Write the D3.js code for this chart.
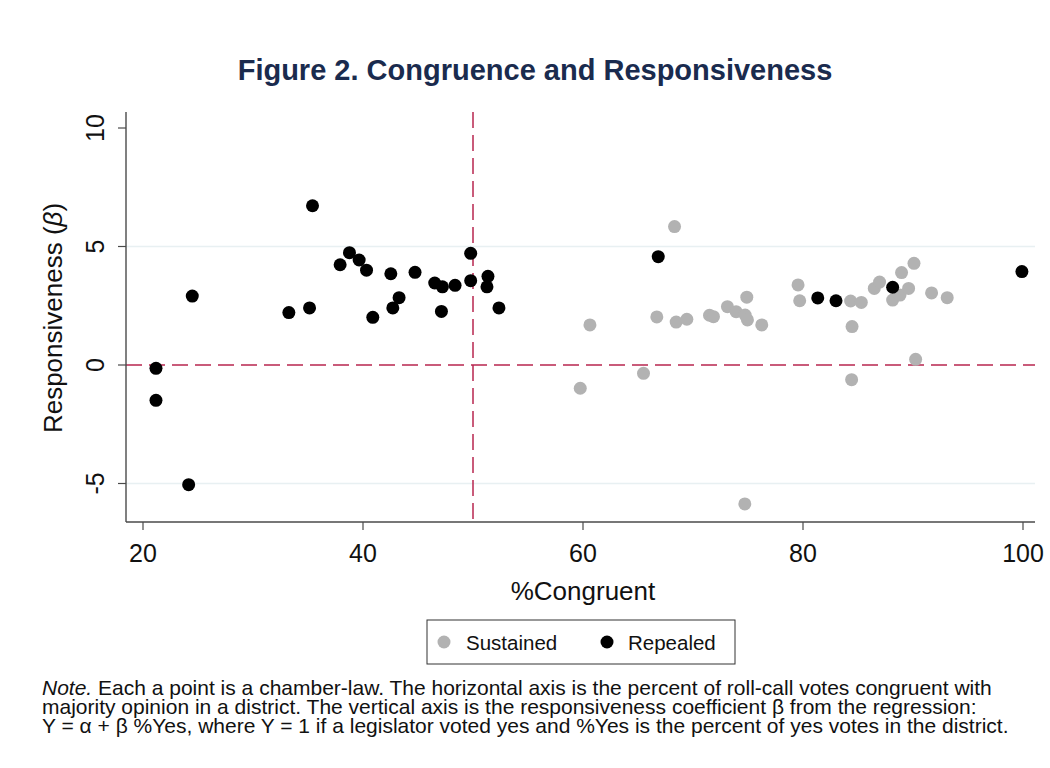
<!DOCTYPE html>
<html><head><meta charset="utf-8">
<script src="https://cdn.jsdelivr.net/npm/d3@7"></script>
<style>body{margin:0;background:#fff}svg{display:block}</style>
</head><body>
<script>
const sustainedX = [68.32,60.63,59.75,65.50,66.71,68.47,69.44,71.50,71.86,73.13,73.92,74.74,74.89,74.95,76.25,74.71,79.55,79.70,84.33,85.30,84.46,84.42,86.48,86.96,88.15,88.82,89.60,88.96,90.09,90.24,91.69,93.11];
const sustainedY = [5.84,1.69,-0.98,-0.35,2.03,1.81,1.93,2.10,2.04,2.46,2.25,2.11,2.86,1.90,1.69,-5.86,3.38,2.71,2.70,2.64,1.62,-0.62,3.23,3.50,2.74,2.95,3.23,3.90,4.29,0.24,3.04,2.84];
const repealedX = [35.41,38.77,39.65,37.92,40.32,42.53,44.73,46.52,47.22,48.37,49.79,49.79,51.36,51.27,52.36,24.48,33.26,35.14,40.89,42.71,43.28,47.13,21.18,21.18,24.15,66.84,81.34,83.0,88.15,99.9];
const repealedY = [6.72,4.74,4.43,4.23,4.0,3.85,3.91,3.46,3.30,3.36,4.71,3.56,3.74,3.30,2.41,2.91,2.21,2.41,2.01,2.41,2.84,2.26,-0.14,-1.49,-5.05,4.57,2.83,2.71,3.28,3.94];
const xTicks = [20,40,60,80,100];
const yTicks = [-5,0,5,10];
const gridY = [-5,5];
const refX = 50, refY = 0;
const title = "Figure 2. Congruence and Responsiveness";
const noteLines = [
 ["Note.", " Each a point is a chamber-law. The horizontal axis is the percent of roll-call votes congruent with"],
 ["", "majority opinion in a district. The vertical axis is the responsiveness coefficient β from the regression:"],
 ["", "Y = α + β %Yes, where Y = 1 if a legislator voted yes and %Yes is the percent of yes votes in the district."]
];

const W=1050,H=768;
const svg=d3.select("body").append("svg").attr("width",W).attr("height",H)
  .style("font-family","'Liberation Sans', Arial, sans-serif");
const L=126,R=1035,T=112,B=522;
const x=d3.scaleLinear().domain([20,100]).range([143,1023]);
const y=d3.scaleLinear().domain([0,10]).range([365,128]);

svg.append("text").attr("x",535).attr("y",80).attr("text-anchor","middle")
  .attr("font-size",29).attr("font-weight","bold").attr("fill","#1a2b4e").text(title);

// grid
svg.selectAll(".g").data(gridY).enter().append("line")
  .attr("x1",L).attr("x2",R).attr("y1",d=>y(d)).attr("y2",d=>y(d))
  .attr("stroke","#e8f0f2").attr("stroke-width",1.6);

// reference lines
const red="#b8264f";
svg.append("line").attr("x1",L).attr("x2",R).attr("y1",y(refY)).attr("y2",y(refY))
  .attr("stroke",red).attr("stroke-width",1.5).attr("stroke-dasharray","16,7");
svg.append("line").attr("x1",x(refX)).attr("x2",x(refX)).attr("y1",T).attr("y2",B)
  .attr("stroke",red).attr("stroke-width",1.5).attr("stroke-dasharray","16,7");

// points
const sus=sustainedX.map((v,i)=>[v,sustainedY[i]]);
const rep=repealedX.map((v,i)=>[v,repealedY[i]]);
svg.selectAll(".s").data(sus).enter().append("circle")
  .attr("cx",d=>x(d[0])).attr("cy",d=>y(d[1])).attr("r",6.5).attr("fill","#b2b2b2");
svg.selectAll(".r").data(rep).enter().append("circle")
  .attr("cx",d=>x(d[0])).attr("cy",d=>y(d[1])).attr("r",6.5).attr("fill","#000");

// axes
const ax="#4a4a4a";
svg.append("line").attr("x1",L).attr("x2",L).attr("y1",T).attr("y2",B).attr("stroke",ax).attr("stroke-width",1.4);
svg.append("line").attr("x1",L).attr("x2",R).attr("y1",B).attr("y2",B).attr("stroke",ax).attr("stroke-width",1.4);
svg.selectAll(".xt").data(xTicks).enter().append("line")
  .attr("x1",d=>x(d)).attr("x2",d=>x(d)).attr("y1",B).attr("y2",B+8).attr("stroke",ax).attr("stroke-width",1.2);
svg.selectAll(".xl").data(xTicks).enter().append("text")
  .attr("x",d=>x(d)).attr("y",562).attr("text-anchor","middle").attr("font-size",25).attr("fill","#111").text(d=>d);
svg.selectAll(".yt").data(yTicks).enter().append("line")
  .attr("x1",L-8).attr("x2",L).attr("y1",d=>y(d)).attr("y2",d=>y(d)).attr("stroke",ax).attr("stroke-width",1.2);
svg.selectAll(".yl").data(yTicks).enter().append("text")
  .attr("transform",d=>`translate(104,${y(d)}) rotate(-90)`).attr("text-anchor","middle")
  .attr("font-size",25).attr("fill","#111").text(d=>d);

svg.append("text").attr("x",x(60)).attr("y",600).attr("text-anchor","middle")
  .attr("font-size",26).attr("fill","#111").text("%Congruent");
const yl=svg.append("text").attr("transform","translate(62,318) rotate(-90)").attr("text-anchor","middle")
  .attr("font-size",26).attr("fill","#111");
yl.append("tspan").text("Responsiveness (");
yl.append("tspan").attr("font-style","italic").text("β");
yl.append("tspan").text(")");

// legend
svg.append("rect").attr("x",427).attr("y",620).attr("width",308).attr("height",44)
  .attr("fill","#fff").attr("stroke","#333").attr("stroke-width",1);
svg.append("circle").attr("cx",444).attr("cy",642).attr("r",6.5).attr("fill","#b2b2b2");
svg.append("text").attr("x",466).attr("y",650).attr("font-size",20.5).attr("fill","#111").text("Sustained");
svg.append("circle").attr("cx",607).attr("cy",642).attr("r",6.5).attr("fill","#000");
svg.append("text").attr("x",628).attr("y",650).attr("font-size",20.5).attr("fill","#111").text("Repealed");

// note (one multi-line text block)
const note=svg.append("text").attr("x",42).attr("y",695).attr("font-size",21).attr("fill","#111");
noteLines.forEach((ln,i)=>{
  if(ln[0]){
    note.append("tspan").attr("x",42).attr("dy",i===0?0:19).attr("font-style","italic").text(ln[0]);
    note.append("tspan").text(ln[1]);
  } else {
    note.append("tspan").attr("x",42).attr("dy",i===0?0:19).text(ln[1]);
  }
});
</script>
</body></html>
